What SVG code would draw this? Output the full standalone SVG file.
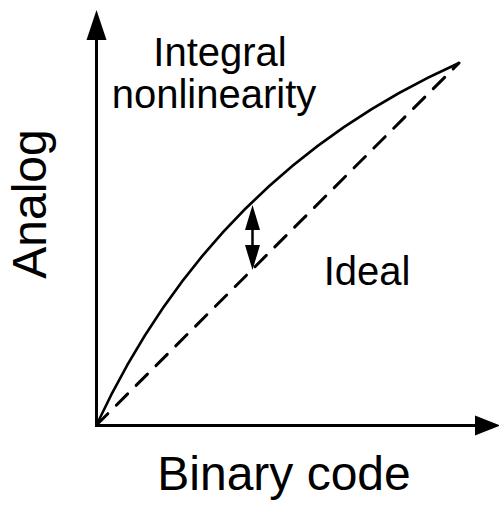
<svg xmlns="http://www.w3.org/2000/svg" width="499" height="511" viewBox="0 0 499 511">
<style>
text{font-family:"Liberation Sans",Arial,sans-serif;fill:#000}
.lbl{font-size:40px;text-anchor:middle}
.ax{font-size:48px;text-anchor:middle}
.line{stroke:#000;fill:none}
.head{fill:#000;stroke:none}
</style>
<rect width="499" height="511" fill="#fff"/>
<g id="connectors">
<line class="line" x1="96.5" y1="426" x2="96.5" y2="38" stroke-width="3"/>
<polygon class="head" points="96.5,10 86.5,40 106.5,40"/>
<line class="line" x1="95" y1="425.5" x2="477" y2="425.5" stroke-width="3"/>
<polygon class="head" points="500,425.5 475,415.5 475,435.5"/>
<path id="inl-curve" class="line" d="M96.5,425 Q213.5,173 459,63" stroke-width="2.5" stroke-linecap="round"/>
<path id="ideal-line" class="line" d="M96.5,425 L459,63" stroke-width="3" stroke-dasharray="16 12" stroke-linecap="round"/>
<line class="line" x1="252.5" y1="228" x2="252.5" y2="247" stroke-width="2.5"/>
<polygon class="head" points="252.5,205 245,230 260,230"/>
<polygon class="head" points="252.5,270 245,245 260,245"/>
</g>
<g id="label-inl">
<text class="lbl" x="220" y="66">Integral</text>
<text class="lbl" x="214" y="108">nonlinearity</text>
</g>
<g id="label-ideal">
<text class="lbl" x="367" y="285">Ideal</text>
</g>
<g id="label-x">
<text class="ax" x="284" y="490">Binary code</text>
</g>
<g id="label-y">
<text class="ax" transform="translate(46,204) rotate(-90)" x="0" y="0">Analog</text>
</g>
</svg>
